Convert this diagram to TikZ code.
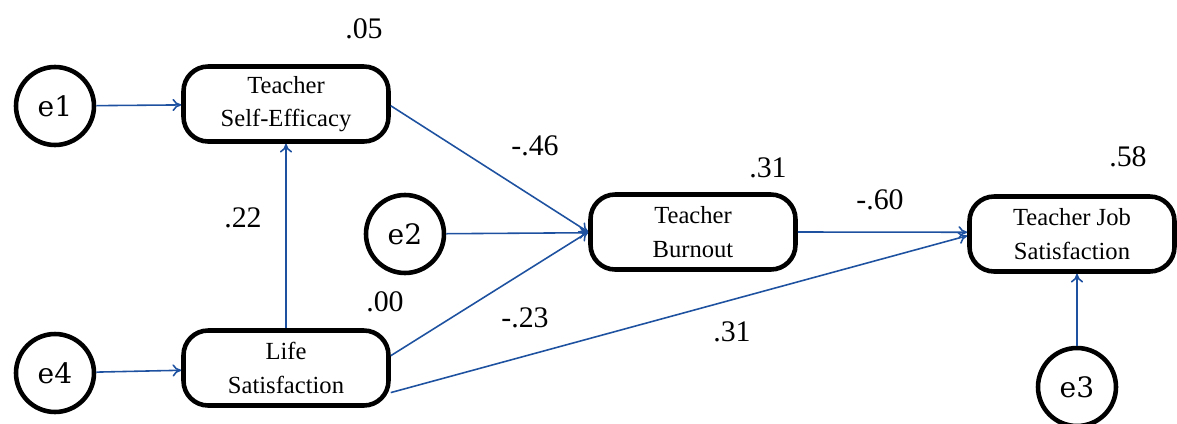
\documentclass[tikz,border=0pt]{standalone}
\usepackage{fontspec}
\setmainfont{DejaVu Serif}
\newfontfamily\numfont{Liberation Serif}
\usetikzlibrary{arrows.meta}
\definecolor{pathblue}{RGB}{30,82,160}
\begin{document}
\begin{tikzpicture}[x=0.02cm,y=-0.02cm,
	err/.style={circle,draw,line width=2.6pt,minimum size=1.56cm,inner sep=0pt,font=\fontsize{16}{18}\selectfont},
	var/.style={rectangle,rounded corners=14pt,draw,line width=2.6pt,minimum width=4.1cm,minimum height=1.5cm,align=center,font=\numfont\fontsize{14}{19}\selectfont},
	coef/.style={font=\numfont\fontsize{17}{19}\selectfont},
	path/.style={draw=pathblue,line width=0.9pt,-{To[length=5pt,width=7pt]}}]
	\useasboundingbox (0,0) rectangle (1177,423);
	\node[err] at (55,106) (e1) {e1};
	\node[err] at (405,234) (e2) {e2};
	\node[err] at (1077,387) (e3) {e3};
	\node[err] at (55,373) (e4) {e4};
	
	\node[var] at (286,104) (tse) {Teacher\\Self-Efficacy};
	\node[var] at (693,232) (tb) {Teacher\\Burnout};
	\node[var] at (1072,234) (tjs) {Teacher Job\\Satisfaction};
	\node[var] at (286,368) (ls) {Life\\Satisfaction};
	
	\node[coef] at (364,29) (r1) {.05};
	\node[coef] at (768,168) (r2) {.31};
	\node[coef] at (1128,157) (r3) {.58};
	\node[coef] at (385,302) (r4) {.00};
	
	\draw[path] (e1) -- (tse);
	\draw[path] (e2) -- (tb);
	\draw[path] (e3) -- (e3 |- tjs.south);
	\draw[path] (e4) -- (ls);
	
	\draw[path] (ls) -- (tse);
	\draw[path] ([yshift=-1pt]tse.east) -- (tb.west);
	\draw[path] ([yshift=7pt]ls.east) -- (tb.west);
	\draw[path] (tb.east) -- ([yshift=1pt]tjs.west);
	\draw[path] ([yshift=-14pt]ls.east) -- ([yshift=-1pt]tjs.west);
	
	\node[coef] at (243,218) (b1) {.22};
	\node[coef] at (535,146) (b2) {-.46};
	\node[coef] at (880,200) (b3) {-.60};
	\node[coef] at (525,318) (b4) {-.23};
	\node[coef] at (732,332) (b5) {.31};
\end{tikzpicture}
\end{document}
